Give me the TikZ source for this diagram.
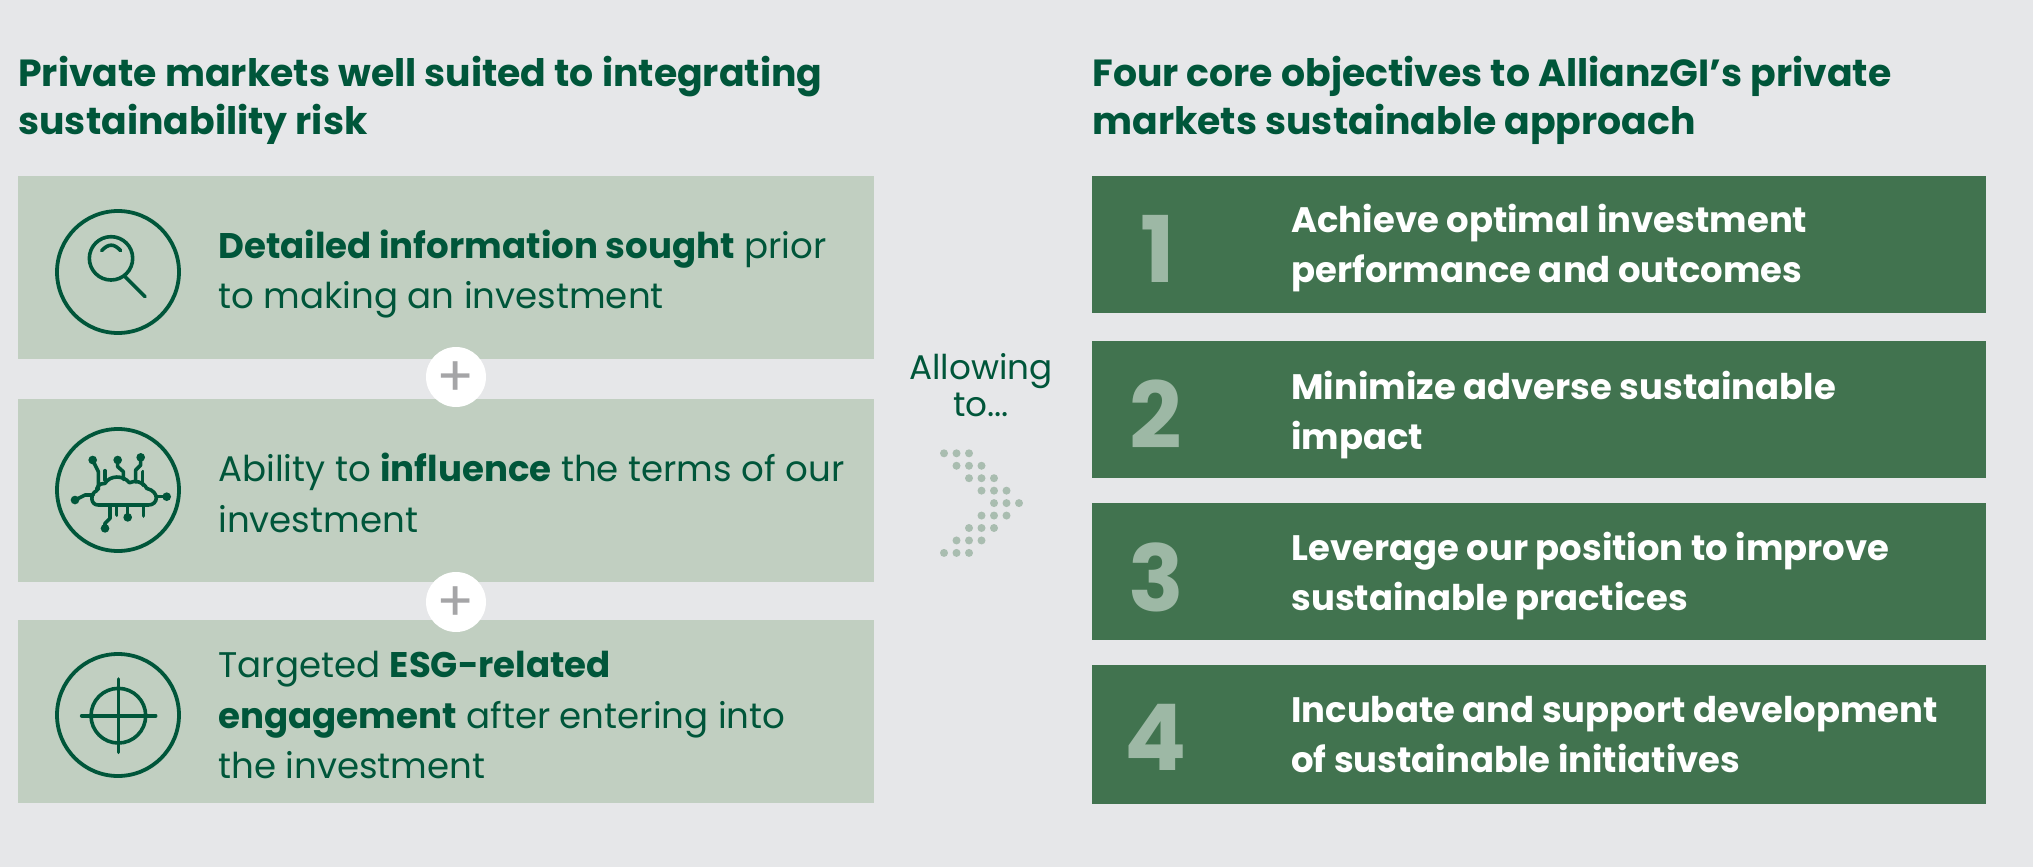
\documentclass[tikz,border=0pt]{standalone}
\usepackage{fontspec}
\setmainfont{Poppins}
\definecolor{bgc}{HTML}{E6E7E9}
\definecolor{lightbox}{HTML}{C1CFC1}
\definecolor{darkbox}{HTML}{41734F}
\definecolor{ink}{HTML}{00563A}
\definecolor{numc}{HTML}{9DB8A5}
\definecolor{dotc}{HTML}{A9BDB0}
\definecolor{plusc}{HTML}{A5A5A7}
\newcommand{\fsz}[2]{\fontsize{#1}{#2}\selectfont}
\tikzset{
  x=0.5pt,y=-0.5pt,
  lbox/.style={fill=lightbox,draw=none},
  dbox/.style={fill=darkbox,draw=none},
  head/.style={anchor=west,align=left,text=ink,font=\bfseries\fsz{18.9}{24},inner sep=0pt},
  body/.style={anchor=west,align=left,text=ink,font=\fsz{17.8}{25.3},inner sep=0pt},
  obj/.style={anchor=west,align=left,text=white,font=\bfseries\fsz{17.7}{25},inner sep=0pt},
  num/.style={anchor=center,text=numc,font=\bfseries\fsz{46}{46},inner sep=0pt},
  ring/.style={draw=ink,line width=1.9pt,fill=none,circle,minimum size=61pt,inner sep=0pt},
  icn/.style={draw=ink,line width=1.8pt,line cap=round,line join=round},
  plusn/.style={fill=white,circle,minimum size=30pt,inner sep=0pt,text=plusc,font=\fsz{28}{28}},
  dott/.style={fill=dotc,draw=none},
}
\begin{document}
\begin{tikzpicture}
\fill[bgc] (0,0) rectangle (2033,867);
\useasboundingbox (0,0) rectangle (2033,867);
% headings
\node[head] (hl) at (18,100.5) {Private markets well suited to integrating\\sustainability risk};
\node[head] (hr) at (1092,100.5) {Four core objectives to AllianzGI’s private\\markets sustainable approach};
% left boxes
\path[lbox] (18,176) rectangle (874,359);
\path[lbox] (18,399) rectangle (874,582);
\path[lbox] (18,620) rectangle (874,803);
\node[plusn] (p1) at (456,377) {\raisebox{-9.5pt}[0pt][0pt]{+}};
\node[plusn] (p2) at (456,602) {\raisebox{-9.5pt}[0pt][0pt]{+}};
% icons
\node[ring] (i1) at (118,272) {};
\node[ring] (i2) at (118,490) {};
\node[ring] (i3) at (118,715) {};
% magnifier
\begin{scope}[shift={(30,180)},x=0.1667pt,y=-0.1667pt]
\draw[icn] (243,235) circle[x radius=65,y radius=65];
\draw[icn] (285,290) -- (345,350);
\draw[icn] (215,212) .. controls (235,190) and (252,190) .. (272,212);
\end{scope}
% cloud
\begin{scope}[shift={(30,400)},x=0.1667pt,y=-0.1667pt]
\draw[icn] (205,315) -- (355,315) .. controls (385,315) and (390,275) .. (350,265)
  .. controls (340,245) and (315,240) .. (298,248)
  .. controls (280,225) and (240,225) .. (225,250)
  .. controls (205,250) and (200,262) .. (200,272)
  .. controls (180,280) and (180,315) .. (205,315) -- cycle;
\draw[icn] (188,180) -- (205,215) -- (205,268);
\draw[icn] (225,212) -- (225,240);
\draw[icn] (263,180) -- (263,200) -- (280,215) -- (280,238);
\draw[icn] (332,172) -- (332,195) -- (317,210) -- (317,245);
\draw[icn] (338,215) -- (338,255);
\draw[icn] (135,300) -- (165,285) -- (190,285);
\draw[icn] (410,290) -- (380,290);
\draw[icn] (240,320) -- (240,355) -- (225,370) -- (225,385);
\draw[icn] (260,320) -- (260,345);
\draw[icn] (293,320) -- (293,352);
\draw[icn] (340,320) -- (340,348);
\foreach \px/\py in {188/180,263/180,332/172,135/300,410/290,225/385,293/352}
  \fill[ink] (\px,\py) circle[x radius=13,y radius=13];
\end{scope}
% target
\begin{scope}[shift={(30,600)},x=0.1667pt,y=-0.1667pt]
\draw[icn] (265,347) circle[x radius=82,y radius=82];
\draw[icn] (155,347) -- (377,347);
\draw[icn] (265,237) -- (265,457);
\end{scope}
% body text
\node[body] (t1) at (218,274) {\textbf{Detailed information sought} prior\\to making an investment};
\node[body] (t2) at (218,493) {Ability to \textbf{influence} the terms of our\\investment};
\node[body] (t3) at (218,715) {Targeted \textbf{ESG-related}\\\textbf{engagement} after entering into\\the investment};
% middle
\node[anchor=center,align=center,text=ink,font=\fsz{17.1}{18.8},inner sep=0pt] (allow) at (981,385) {Allowing\\to...};
\foreach \r/\o in {0/0,1/1,2/2,3/3,4/4,5/3,6/2,7/1,8/0}
  \foreach \c in {0,1,2}
    \fill[dott] ({944+12.5*(\o+\c)},{453.3+12.45*\r}) circle[x radius=4,y radius=4];
% right boxes
\path[dbox] (1092,176) rectangle (1986,313);
\path[dbox] (1092,341) rectangle (1986,478);
\path[dbox] (1092,503) rectangle (1986,640);
\path[dbox] (1092,665) rectangle (1986,804);
\node[num] (n1) at (1158,249) {1};
\node[num] (n2) at (1156,414) {2};
\node[num] (n3) at (1156,577) {3};
\node[num] (n4) at (1156,737) {4};
\node[obj] (o1) at (1291,248) {Achieve optimal investment\\performance and outcomes};
\node[obj] (o2) at (1291,415) {Minimize adverse sustainable\\impact};
\node[obj] (o3) at (1291,576) {Leverage our position to improve\\sustainable practices};
\node[obj] (o4) at (1291,735) {Incubate and support development\\of sustainable initiatives};
\end{tikzpicture}
\end{document}
